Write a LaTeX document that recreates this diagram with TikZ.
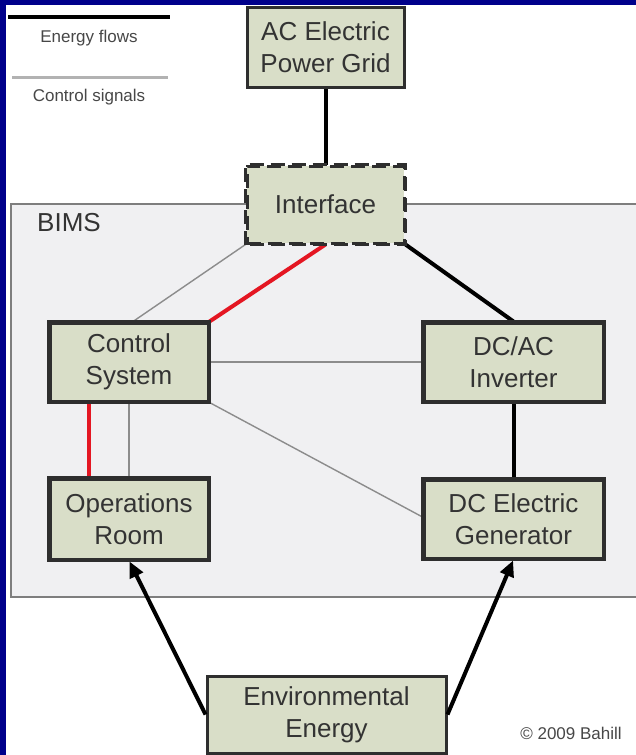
\documentclass[tikz,border=0pt]{standalone}
\usepackage{fontspec}
\setmainfont{Liberation Sans}
\usetikzlibrary{calc,arrows.meta}
\definecolor{navy}{RGB}{0,0,139}
\definecolor{boxfill}{RGB}{217,222,200}
\definecolor{bimsfill}{RGB}{240,240,242}
\definecolor{txt}{RGB}{51,51,51}
\definecolor{sig}{RGB}{140,140,140}
\definecolor{alarm}{RGB}{228,22,34}
\tikzset{
  block/.style={draw=txt!90!black, line width=3pt, fill=boxfill, text=txt,
    align=center, inner sep=0pt, font=\fontsize{26}{32}\selectfont},
  energy/.style={draw=black, line width=4pt},
  signal/.style={draw=sig, line width=1.4pt},
  redsig/.style={draw=alarm, line width=4pt},
  feed/.style={energy, -{Triangle[length=16pt,width=14pt]}, shorten >=1pt},
  legendtxt/.style={text=txt!90, font=\fontsize{17}{20}\selectfont},
}
\begin{document}
\begin{tikzpicture}[x=1pt,y=-1pt]
  % page: blue frame on the left and top, white field
  \useasboundingbox (0,0) rectangle (636,755);
  \fill[navy] (0,0) rectangle (636,755);
  \fill[white] (6,5) rectangle (636,755);

  % system boundary
  \begin{scope}
    \clip (6,5) rectangle (636,755);
    \draw[sig!90!black, line width=1.4pt, fill=bimsfill] (11,204) rectangle (660,597);
  \end{scope}
  \node[anchor=center, text=txt, font=\fontsize{26}{30}\selectfont] (bims) at (69,223) {BIMS};

  % legend
  \coordinate (le1) at (8,17);  \coordinate (le2) at (170,17);
  \coordinate (lc1) at (12,77); \coordinate (lc2) at (168,77);
  \draw[energy] (le1) -- (le2);
  \draw[draw=black!30, line width=3pt] (lc1) -- (lc2);
  \node[legendtxt] (lbe) at (89,38) {Energy flows};
  \node[legendtxt] (lbc) at (89,97) {Control signals};

  % blocks
  \node[block, minimum width=157pt, minimum height=80pt] (grid) at (325.5,47) {AC Electric\\Power Grid};
  \node[block, minimum width=157pt, minimum height=77pt, dash pattern=on 14pt off 7pt] (iface) at (325.5,204.5) {Interface};
  \node[block, minimum width=158pt, minimum height=78pt] (ctrl) at (129,362) {Control\\System};
  \node[block, minimum width=179pt, minimum height=78pt] (inv) at (513.5,362) {DC/AC\\Inverter};
  \node[block, minimum width=158pt, minimum height=80pt] (ops) at (129,519) {Operations\\Room};
  \node[block, minimum width=179pt, minimum height=78pt] (gen) at (513.5,519) {DC Electric\\Generator};
  \node[block, minimum width=239pt, minimum height=77pt] (env) at (326.5,714.5) {Environmental\\Energy};

  % energy flows
  \draw[energy] (grid.south) -- (iface.north);
  \draw[energy] (iface.south east) -- (inv.north);
  \draw[energy] (inv.south) -- (gen.north);
  \draw[feed] (env.west) -- (ops.south);
  \draw[feed] (env.east) -- (gen.south);

  % control signals
  \draw[signal] (iface.south west) -- ($(ctrl.north)+(4,0)$);
  \draw[signal] (ctrl.east) -- (inv.west);
  \draw[signal] (ctrl.south east) -- ($(gen.west)+(0,-2)$);
  \draw[signal] (ctrl.south) -- (ops.north);
  \draw[redsig] (iface.south) -- (ctrl.north east);
  \draw[redsig] ($(ctrl.south west)!0.25!(ctrl.south east)$) -- ($(ops.north west)!0.25!(ops.north east)$);

  % redraw block outlines over the line ends
  \foreach \b in {ctrl,ops,gen,inv}
    \draw[txt!90!black, line width=3pt] (\b.south west) rectangle (\b.north east);
  \draw[txt!90!black, line width=3pt, dash pattern=on 14pt off 7pt] (iface.south west) rectangle (iface.north east);

  \node[text=txt!90, font=\fontsize{17}{20}\selectfont] (copy) at (571,733) {© 2009 Bahill};
\end{tikzpicture}
\end{document}
